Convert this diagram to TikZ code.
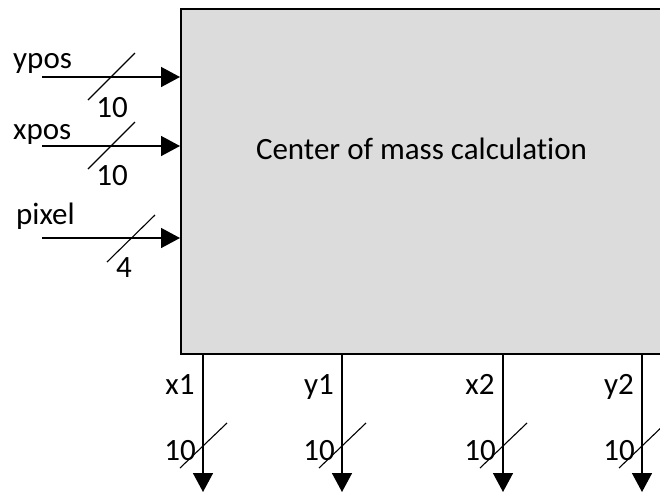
\documentclass[tikz,border=0pt]{standalone}
\usepackage{fontspec}
\setmainfont{Carlito}[Ligatures={NoCommon}]
\usetikzlibrary{arrows.meta}
\definecolor{boxgray}{RGB}{220,220,220}
\tikzset{
  lbl/.style={inner sep=0pt, font=\fontsize{31}{36}\selectfont},
  sig/.style={line width=1.5pt, -{Triangle[length=19pt,width=20pt]}},
  busmark/.style={line width=1.1pt},
  mainbox/.style={draw, line width=2pt, fill=boxgray, minimum width=500pt, minimum height=345pt, anchor=north west, inner sep=0pt}
}
\begin{document}
\begin{tikzpicture}[x=1pt,y=-1pt]
\useasboundingbox (0,0) rectangle (660,493);
\clip (0,0) rectangle (660,493);
\node[mainbox] (box) at (180,8) {};
\node[lbl, anchor=base] (title) at (421.5,159) {Center of mass calculation};
% inputs
\coordinate (ypin) at (42,77);
\coordinate (xpin) at (42,146);
\coordinate (pxin) at (42,238);
\draw[sig] (ypin) -- (ypin -| box.west);
\draw[sig] (xpin) -- (xpin -| box.west);
\draw[sig] (pxin) -- (pxin -| box.west);
\draw[busmark] (88,100) -- (135,53);
\draw[busmark] (88,169) -- (135,122);
\draw[busmark] (107,262) -- (155,215);
\node[lbl, anchor=base west] (lypos) at (13,68) {ypos};
\node[lbl, anchor=base west] (lxpos) at (13,139) {xpos};
\node[lbl, anchor=base west] (lpix) at (16,224) {pixel};
\node[lbl, anchor=base] (wy) at (112,117) {10};
\node[lbl, anchor=base] (wx) at (112,185) {10};
\node[lbl, anchor=base] (wp) at (124,277) {4};
% outputs
\foreach \xx/\nm in {203/x1, 342/y1, 503/x2, 642/y2}{
  \coordinate (o\nm) at (\xx,492);
  \draw[sig] (o\nm |- box.south) -- (o\nm);
  \draw[busmark] (\xx-23,468) -- (\xx+24,423);
  \node[lbl, anchor=base] (l\nm) at (\xx-23,394) {\nm};
  \node[lbl, anchor=base] (w\nm) at (\xx-23,460) {10};
}
\end{tikzpicture}
\end{document}
